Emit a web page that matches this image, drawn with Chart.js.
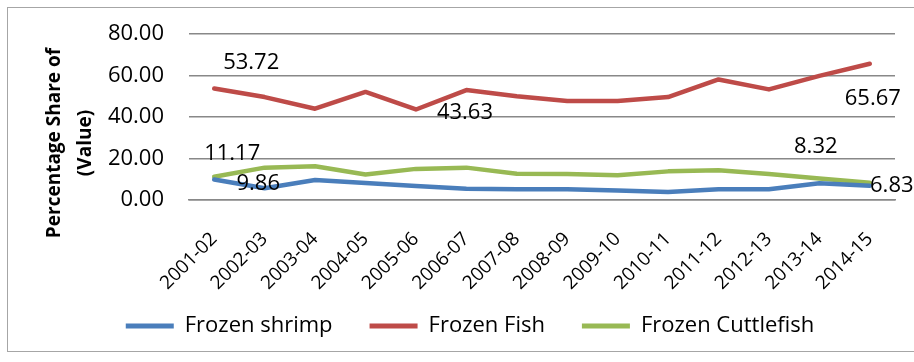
<!DOCTYPE html>
<html>
<head>
<meta charset="utf-8">
<script src="https://cdn.jsdelivr.net/npm/chart.js@4.4.0/dist/chart.umd.min.js"></script>
<style>
  html, body { margin: 0; padding: 0; background: #fff; }
  #wrap { width: 914px; height: 362px; position: relative; }
</style>
</head>
<body>
<div id="wrap"><canvas id="shareChart"></canvas></div>
<script>
// categories
const years = ['2001-02', '2002-03', '2003-04', '2004-05', '2005-06', '2006-07', '2007-08',
  '2008-09', '2009-10', '2010-11', '2011-12', '2012-13', '2013-14', '2014-15'];

// series values (percentage share of value)
const frozenShrimp = [9.86, 5.7, 9.6, 8.2, 6.8, 5.4, 5.2, 5.2, 4.6, 3.8, 5.2, 5.2, 8.1, 6.83];
const frozenFish = [53.72, 49.6, 44.0, 52.1, 43.63, 53.0, 50.0, 47.7, 47.7, 49.6, 58.1, 53.3, 59.8, 65.67];
const frozenCuttlefish = [11.17, 15.6, 16.3, 12.3, 15.0, 15.6, 12.7, 12.5, 11.9, 13.8, 14.3, 12.5, 10.4, 8.32];

// y axis ticks
const yTicks = [0, 20, 40, 60, 80];

// points that carry a value label: [dataset index, point index]
const labelledPoints = [[1, 0], [2, 0], [0, 0], [1, 4], [1, 13], [2, 13], [0, 13]];

const FONT = '"Open Sans", "Liberation Sans", sans-serif';

// where each value label sits relative to its point (same order as labelledPoints)
const labelOffsets = [
  [37, -26], [18, -23], [44, 4], [49, 3], [3, 35], [-54, -36], [22, 0]
];

// white background + thin frame around the whole chart
const framePlugin = {
  id: 'frame',
  beforeDraw(chart) {
    const c = chart.ctx;
    c.save();
    c.fillStyle = '#fff';
    c.fillRect(0, 0, chart.width, chart.height);
    c.strokeStyle = '#a6a6a6';
    c.lineWidth = 1;
    c.strokeRect(7.5, 7.5, chart.width + 10, 344);
    c.restore();
  },
  // rotated year labels run lower than the axis box, don't let them get clipped
  afterLayout(chart) {
    chart.scales.x.bottom = chart.height;
  }
};

// two line y axis title, a bit below the middle like the original
const yTitlePlugin = {
  id: 'yTitle',
  afterDraw(chart) {
    const c = chart.ctx;
    const a = chart.chartArea;
    const lines = ['Percentage Share of', '(Value)'];
    c.save();
    c.font = 'bold 19px ' + FONT;
    c.fillStyle = '#000';
    c.textAlign = 'center';
    c.textBaseline = 'middle';
    lines.forEach((t, i) => {
      c.save();
      c.translate(a.left - 134 + i * 31, a.top + 109);
      c.rotate(-Math.PI / 2);
      c.fillText(t, 0, 0);
      c.restore();
    });
    c.restore();
  }
};

// value labels next to a few points
const valueLabelPlugin = {
  id: 'valueLabels',
  afterDatasetsDraw(chart) {
    const c = chart.ctx;
    c.save();
    c.font = '22px ' + FONT;
    c.fillStyle = '#000';
    c.textAlign = 'center';
    c.textBaseline = 'middle';
    labelledPoints.forEach(([ds, idx], k) => {
      const pt = chart.getDatasetMeta(ds).data[idx];
      const v = chart.data.datasets[ds].data[idx];
      c.fillText(v.toFixed(2), pt.x + labelOffsets[k][0], pt.y + labelOffsets[k][1]);
    });
    c.restore();
  }
};

const ctx = document.getElementById('shareChart').getContext('2d');

const shareChart = new Chart(ctx, {
  type: 'line',
  data: {
    labels: years,
    datasets: [
      { label: 'Frozen shrimp', data: frozenShrimp, borderColor: '#4a7ebb', backgroundColor: '#4a7ebb' },
      { label: 'Frozen Fish', data: frozenFish, borderColor: '#be4b48', backgroundColor: '#be4b48' },
      { label: 'Frozen Cuttlefish', data: frozenCuttlefish, borderColor: '#98b954', backgroundColor: '#98b954' }
    ]
  },
  options: {
    responsive: true,
    maintainAspectRatio: false,
    animation: false,
    datasets: {
      line: {
        borderWidth: 4.5,
        tension: 0,
        pointRadius: 0,
        borderCapStyle: 'round',
        borderJoinStyle: 'round'
      }
    },
    layout: {
      padding: { left: 45, right: 19, top: 30, bottom: 15 }
    },
    plugins: {
      tooltip: { enabled: false },
      legend: {
        position: 'bottom',
        labels: {
          color: '#000',
          font: { family: FONT, size: 22 },
          boxWidth: 48,
          boxHeight: 5,
          padding: 37,
          generateLabels(chart) {
            return Chart.defaults.plugins.legend.labels.generateLabels(chart)
              .map(l => Object.assign(l, { lineWidth: 0, fillStyle: l.strokeStyle }));
          }
        }
      }
    },
    scales: {
      x: {
        offset: true,
        grid: { display: false },
        border: { display: true, color: '#888', width: 1.5 },
        ticks: {
          color: '#000',
          font: { family: FONT, size: 19 },
          minRotation: 45,
          maxRotation: 45,
          padding: 20
        },
        afterFit(scale) { scale.height = 78; }
      },
      y: {
        min: 0,
        max: 80,
        grid: { color: '#888', lineWidth: 1.5, drawTicks: false },
        border: { display: false },
        afterBuildTicks(scale) { scale.ticks = yTicks.map(v => ({ value: v })); },
        ticks: {
          color: '#000',
          font: { family: FONT, size: 22, lineHeight: 0.82 },
          padding: 25,
          callback: v => Number(v).toFixed(2)
        },
        afterFit(scale) { scale.width = 144; }
      }
    }
  },
  plugins: [framePlugin, yTitlePlugin, valueLabelPlugin]
});
</script>
</body>
</html>
